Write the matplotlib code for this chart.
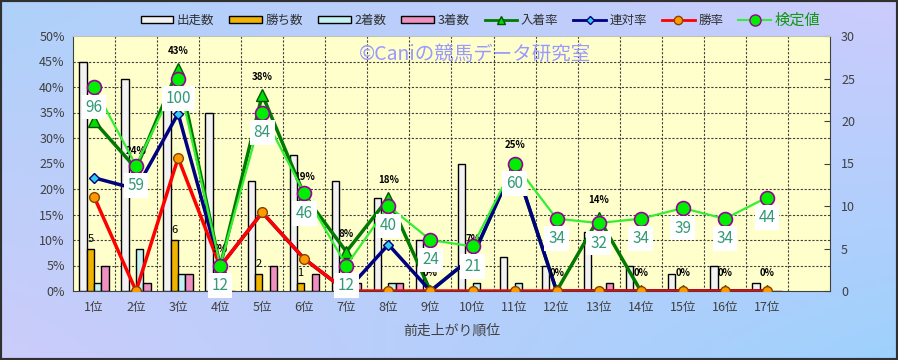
import numpy as np
import matplotlib
matplotlib.use("Agg")
import matplotlib.pyplot as plt
from matplotlib.patches import Patch, Rectangle
from matplotlib.lines import Line2D

plt.rcParams['font.family'] = ['Noto Sans CJK JP', 'DejaVu Sans']

# データ（前走上がり順位別）
cats = ["1位", "2位", "3位", "4位", "5位", "6位", "7位", "8位", "9位",
        "10位", "11位", "12位", "13位", "14位", "15位", "16位", "17位"]
starts = [27, 25, 23, 21, 13, 16, 13, 11, 6, 15, 4, 3, 7, 3, 2, 3, 1]
wins = [5, 0, 6, 1, 2, 1, 0, 0, 0, 0, 0, 0, 0, 0, 0, 0, 0]
seconds = [1, 5, 2, 0, 0, 0, 0, 1, 0, 1, 1, 0, 0, 0, 0, 0, 0]
thirds = [3, 1, 2, 0, 3, 2, 1, 1, 0, 0, 0, 0, 1, 0, 0, 0, 0]

place_rate = [33.3, 24.0, 43.5, 4.8, 38.5, 18.8, 7.7, 18.2, 0.0, 6.7, 25.0, 0.0, 14.3, 0.0, 0.0, 0.0, 0.0]
rentai_rate = [22.2, 20.0, 34.8, 4.8, 15.4, 6.3, 0.0, 9.1, 0.0, 6.7, 25.0, 0.0, 0.0, 0.0, 0.0, 0.0, 0.0]
win_rate = [18.5, 0.0, 26.1, 4.8, 15.4, 6.3, 0.0, 0.0, 0.0, 0.0, 0.0, 0.0, 0.0, 0.0, 0.0, 0.0, 0.0]
# 1位のラベルは検定値の枠に隠れて見えない
place_labels = ["", "24%", "43%", "5%", "38%", "19%", "8%", "18%", "0%",
                "7%", "25%", "0%", "14%", "0%", "0%", "0%", "0%"]
kentei = [96, 59, 100, 12, 84, 46, 12, 40, 24, 21, 60, 34, 32, 34, 39, 34, 44]

x = np.arange(len(cats))

fig = plt.figure(figsize=(8.98, 3.6), dpi=100)

# 背景グラデーション
bg = fig.add_axes([0, 0, 1, 1], zorder=-10)
u, v = np.meshgrid(np.linspace(0, 1, 200), np.linspace(0, 1, 80))
tl = np.array([0.68, 0.82, 0.98]); tr = np.array([0.80, 0.80, 0.99])
bl = np.array([0.80, 0.80, 0.98]); br = np.array([0.62, 0.82, 0.99])
img = ((1 - u)[..., None] * ((1 - v)[..., None] * tl + v[..., None] * bl)
       + u[..., None] * ((1 - v)[..., None] * tr + v[..., None] * br))
bg.imshow(img, aspect='auto', extent=[0, 1, 0, 1], origin='upper')
bg.axis('off')
fig.patches.append(Rectangle((0, 0), 1, 1, transform=fig.transFigure, fill=False,
                             edgecolor='#303030', lw=3))

rect = [73 / 898, 1 - 291 / 360, (830 - 73) / 898, (291 - 36) / 360]
ax = fig.add_axes(rect)          # 件数（右軸）
ax.set_facecolor('#ffffcc')
ax2 = ax.twinx()                 # 率（左軸）
ax3 = ax.twinx()                 # 検定値（非表示）

w = 0.175
bar_kw = dict(width=w, edgecolor='black', linewidth=1, zorder=3)
ax.bar(x - 1.5 * w, starts, color='#f2f2f2', **bar_kw)
ax.bar(x - 0.5 * w, wins, color='#f0b400', **bar_kw)
ax.bar(x + 0.5 * w, seconds, color='#c4f2f2', **bar_kw)
ax.bar(x + 1.5 * w, thirds, color='#f090c0', **bar_kw)
for xi, wv in zip(x, wins):
    if wv > 0:
        ax.annotate(str(wv), (xi - 0.5 * w, wv), xytext=(0, 5), textcoords='offset pixels',
                    ha='center', va='bottom', fontsize=8, zorder=4)

ax.set_xlim(-0.5, 17.5)
ax.set_ylim(0, 30)
ax.set_yticks(np.arange(0, 31, 5))
ax.set_yticks(np.arange(0, 31, 3), minor=True)
ax.set_xticks(x)
ax.set_xticklabels(cats)
ax.set_xticks(np.arange(0.5, 17, 1), minor=True)
ax.grid(which='minor', color='#404040', linestyle=(0, (2, 1.5)), linewidth=0.8)
ax.yaxis.tick_right()
ax.tick_params(axis='y', which='major', direction='in', length=4, colors='#404040',
               labelsize=9, pad=8, labelright=True, labelleft=False)
ax.tick_params(which='minor', length=0)
ax.tick_params(axis='x', which='major', length=0, labelsize=9, colors='#404040', pad=7)
ax.set_xlabel("前走上がり順位", fontsize=10, color='#404040', labelpad=7)
for s in ['left', 'bottom', 'right']:
    ax.spines[s].set_color('#404040')
ax.spines['top'].set_color('#c0c0c0')

# 率の線
ax2.plot(x, place_rate, color='#007a00', lw=2.5, marker='^', ms=8,
         mfc='#00dd00', mec='#005500', zorder=3)
ax2.plot(x, rentai_rate, color='#000080', lw=2.5, marker='D', ms=5,
         mfc='#33ccee', mec='#000080', zorder=4)
ax2.plot(x, win_rate, color='#ff0000', lw=2.5, marker='o', ms=7,
         mfc='#ff9900', mec='#884400', zorder=5)
for xi, r, lab in zip(x, place_rate, place_labels):
    if lab:
        ax2.annotate(lab, (xi, r), xytext=(0, 13), textcoords='offset pixels',
                     ha='center', va='bottom', fontsize=7, fontweight='bold', zorder=6)
ax2.set_ylim(0, 50)
ax2.set_yticks(np.arange(0, 51, 5))
ax2.set_yticklabels([f"{p}%" for p in range(0, 51, 5)])
ax2.yaxis.tick_left()
ax2.tick_params(axis='y', length=0, colors='#404040', labelsize=9, pad=6,
                labelleft=True, labelright=False)
for s in ax2.spines.values():
    s.set_visible(False)

# 検定値
ax3.plot(x, kentei, color='#33ee33', lw=1.6, marker='o', ms=10,
         mfc='#00ee00', mec='#990099', mew=1.2, zorder=3)
for xi, k in zip(x, kentei):
    ax3.annotate(str(k), (xi, k), xytext=(0, -20), textcoords='offset pixels',
                 ha='center', va='center', fontsize=11, color='#339977', zorder=7,
                 bbox=dict(boxstyle='square,pad=0.25', fc='white', ec='none'))
ax3.set_ylim(0, 120)
ax3.set_yticks([])
for s in ax3.spines.values():
    s.set_visible(False)

fig.text(0.529, 0.848, "©Caniの競馬データ研究室", fontsize=14, color='#9999ff',
         ha='center', va='center')

handles = [
    Patch(facecolor='#f2f2f2', edgecolor='black'),
    Patch(facecolor='#f0b400', edgecolor='black'),
    Patch(facecolor='#c4f2f2', edgecolor='black'),
    Patch(facecolor='#f090c0', edgecolor='black'),
    Line2D([], [], color='#007a00', lw=2, marker='^', ms=6, mfc='#00dd00', mec='#005500'),
    Line2D([], [], color='#000080', lw=2, marker='D', ms=4, mfc='#33ccee', mec='#000080'),
    Line2D([], [], color='#ff0000', lw=2, marker='o', ms=6, mfc='#ff9900', mec='#884400'),
    Line2D([], [], color='#33ee33', lw=1.5, marker='o', ms=8, mfc='#00ee00', mec='#990099'),
]
labels = ["出走数", "勝ち数", "2着数", "3着数", "入着率", "連対率", "勝率", "検定値"]
leg = fig.legend(handles, labels, loc='center', bbox_to_anchor=(0.535, 0.945), ncol=8,
                 frameon=False, fontsize=9, handlelength=2.6, handleheight=0.45,
                 handletextpad=0.3, columnspacing=1.2)
for t in leg.get_texts():
    t.set_color('#303030')
leg.get_texts()[-1].set_color('#119911')
leg.get_texts()[-1].set_fontsize(11)

fig.savefig("out.png", dpi=100)
